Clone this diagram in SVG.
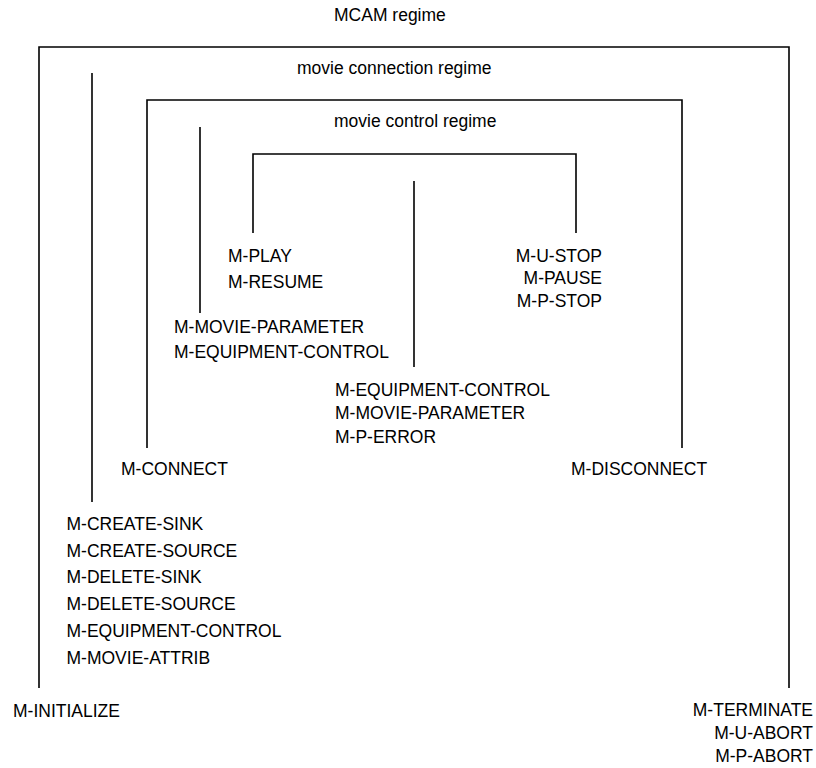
<svg xmlns="http://www.w3.org/2000/svg" width="816" height="768" viewBox="0 0 816 768">
<style>
text{font-family:"Liberation Sans",Arial,sans-serif;font-size:17.5px;fill:#000}
.ln{fill:none;stroke:#000;stroke-width:1.6}
.e{text-anchor:end}
</style>
<rect width="816" height="768" fill="#fff"/>
<g id="connectors">
<path class="ln" d="M39,688 V47 H789 V688"/>
<path class="ln" d="M92,73 V502"/>
<path class="ln" d="M147,448 V100 H682 V448"/>
<path class="ln" d="M200,127 V313"/>
<path class="ln" d="M253,233 V154 H576 V233"/>
<path class="ln" d="M414,181 V367"/>
</g>
<g id="mcam-label"><text x="334" y="21">MCAM regime</text></g>
<g id="connection-label"><text x="297" y="74">movie connection regime</text></g>
<g id="control-label"><text x="334" y="127">movie control regime</text></g>
<g id="play"><text x="228" y="262">M-PLAY</text><text x="228" y="288">M-RESUME</text></g>
<g id="stop"><text class="e" x="602" y="262">M-U-STOP</text><text class="e" x="602" y="284">M-PAUSE</text><text class="e" x="602" y="307">M-P-STOP</text></g>
<g id="control-ops"><text x="174" y="332.5">M-MOVIE-PARAMETER</text><text x="174" y="357.5">M-EQUIPMENT-CONTROL</text></g>
<g id="play-ops"><text x="335" y="395.5">M-EQUIPMENT-CONTROL</text><text x="335" y="418.5">M-MOVIE-PARAMETER</text><text x="335" y="443">M-P-ERROR</text></g>
<g id="connect"><text x="121" y="474.5">M-CONNECT</text></g>
<g id="disconnect"><text x="571" y="474.5">M-DISCONNECT</text></g>
<g id="connection-ops"><text x="66.5" y="529.5">M-CREATE-SINK</text><text x="66.5" y="556.5">M-CREATE-SOURCE</text><text x="66.5" y="582.5">M-DELETE-SINK</text><text x="66.5" y="609.5">M-DELETE-SOURCE</text><text x="66.5" y="636.5">M-EQUIPMENT-CONTROL</text><text x="66.5" y="663.5">M-MOVIE-ATTRIB</text></g>
<g id="initialize"><text x="13" y="716.5">M-INITIALIZE</text></g>
<g id="terminate"><text class="e" x="813" y="716">M-TERMINATE</text><text class="e" x="813" y="739">M-U-ABORT</text><text class="e" x="813" y="762">M-P-ABORT</text></g>
</svg>
